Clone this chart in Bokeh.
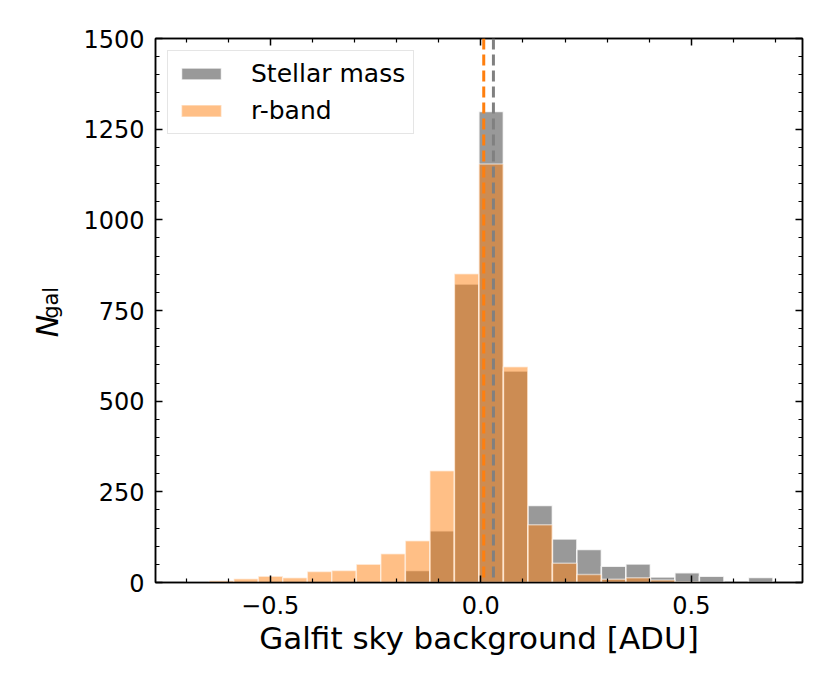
import numpy as np
from bokeh.plotting import figure
from bokeh.layouts import row
from bokeh.models import (Span, LinearAxis, FixedTicker, Range1d,
                          Legend, LegendItem, ColumnDataSource)
from bokeh.core.properties import value
from bokeh.embed import file_html
from bokeh.resources import INLINE

# ---------------- data ----------------
bin_edges = [-0.7030, -0.6448, -0.5866, -0.5284, -0.4702, -0.4120, -0.3538,
             -0.2956, -0.2374, -0.1792, -0.1210, -0.0628, -0.0046, 0.0536,
             0.1118, 0.1700, 0.2282, 0.2864, 0.3446, 0.4028, 0.4610, 0.5192,
             0.5774, 0.6356, 0.6938]
counts_stellar_mass = [0, 0, 0, 0, 0, 0, 0, 0, 4, 33, 143, 823, 1299, 583,
                       212, 120, 91, 45, 51, 15, 27, 17, 0, 14]
counts_rband = [1, 5, 10, 17, 13, 30, 33, 50, 79, 115, 308, 851, 1154, 595,
                159, 53, 22, 9, 13, 7, 2, 0, 0, 0]
median_stellar_mass = 0.030
median_rband = 0.007

x_major_ticks = [-0.5, 0.0, 0.5]
x_tick_labels = ["\u22120.5", "0.0", "0.5"]
x_minor_ticks = [-0.7, -0.6, -0.4, -0.3, -0.2, -0.1, 0.1, 0.2, 0.3, 0.4, 0.6, 0.7]
y_major_ticks = [0, 250, 500, 750, 1000, 1250, 1500]
y_tick_labels = ["0", "250", "500", "750", "1000", "1250", "1500"]
y_minor_ticks = [v for v in range(0, 1501, 50) if v % 250 != 0]

x_label = "Galfit sky background [ADU]"
y_label_main = "N"
y_label_sub = "gal"
legend_labels = ["Stellar mass", "r-band"]

FONT = "DejaVu Sans"
C_GRAY = "#808080"
C_ORANGE = "#ff7f0e"

W, H = 830, 683
LW = 80  # width of the strip that carries the y-axis title

# ---------------- y-axis title strip ----------------
ylab = figure(width=LW, height=H, output_backend="svg", toolbar_location=None,
              x_range=Range1d(0, LW), y_range=Range1d(0, H),
              min_border_left=0, min_border_right=0, min_border_top=0,
              min_border_bottom=0, x_axis_location=None, y_axis_location=None)
ylab.xgrid.visible = False
ylab.ygrid.visible = False
ylab.outline_line_color = None
ylab.background_fill_color = "white"
ylab.border_fill_color = "white"
ylab.text(x=[46.5], y=[308], text=[y_label_main], angle=np.pi / 2,
          text_font=value(FONT), text_font_size="30px",
          text_font_style="italic", text_color="black",
          text_align="left", text_baseline="alphabetic")
ylab.text(x=[50.5], y=[331], text=[y_label_sub], angle=np.pi / 2,
          text_font=value(FONT), text_font_size="21px", text_color="black",
          text_align="left", text_baseline="alphabetic")

# ---------------- main figure ----------------
p = figure(width=W - LW, height=H, output_backend="svg", toolbar_location=None,
           x_range=Range1d(-0.7725, 0.764), y_range=Range1d(0, 1500),
           min_border_left=154 - LW, min_border_right=28, min_border_top=38,
           min_border_bottom=101, x_axis_location=None, y_axis_location=None)
p.xgrid.visible = False
p.ygrid.visible = False
p.outline_line_color = "black"
p.outline_line_width = 1.5
p.background_fill_color = "white"
p.border_fill_color = "white"

src_mass = ColumnDataSource(dict(left=bin_edges[:-1], right=bin_edges[1:],
                                 top=counts_stellar_mass,
                                 bottom=[0] * len(counts_stellar_mass)))
src_r = ColumnDataSource(dict(left=bin_edges[:-1], right=bin_edges[1:],
                              top=counts_rband, bottom=[0] * len(counts_rband)))

r_mass = p.quad(left="left", right="right", top="top", bottom="bottom",
                source=src_mass, fill_color=C_GRAY, fill_alpha=0.8,
                line_color="white", line_alpha=0.8, line_width=1.5)
r_r = p.quad(left="left", right="right", top="top", bottom="bottom",
             source=src_r, fill_color=C_ORANGE, fill_alpha=0.5,
             line_color="white", line_alpha=0.5, line_width=1.5)

p.add_layout(Span(location=median_rband, dimension="height", line_color=C_ORANGE,
                  line_dash="11 5", line_width=3))
p.add_layout(Span(location=median_stellar_mass, dimension="height",
                  line_color=C_GRAY, line_dash="11 5", line_width=3))


def style_axis(ax, ticks, minor, labels):
    ax.ticker = FixedTicker(ticks=ticks, minor_ticks=minor)
    ax.major_tick_in = 7
    ax.major_tick_out = 0
    ax.minor_tick_in = 4
    ax.minor_tick_out = 0
    ax.major_tick_line_width = 1.5
    ax.minor_tick_line_width = 1.2
    ax.major_tick_line_color = "black"
    ax.minor_tick_line_color = "black"
    ax.axis_line_color = "black"
    ax.axis_line_width = 1.5
    ax.major_label_text_font = FONT
    ax.major_label_text_font_size = "24px"
    ax.major_label_text_color = "black"
    ax.major_label_overrides = {t: l for t, l in zip(ticks, labels)}


xb = LinearAxis()
style_axis(xb, x_major_ticks, x_minor_ticks, x_tick_labels)
xb.major_label_standoff = 13
xb.axis_label = x_label
xb.axis_label_text_font = FONT
xb.axis_label_text_font_size = "31px"
xb.axis_label_text_font_style = "normal"
xb.axis_label_text_color = "black"
xb.axis_label_standoff = 3
p.add_layout(xb, "below")

yl = LinearAxis()
style_axis(yl, y_major_ticks, y_minor_ticks, y_tick_labels)
yl.major_label_standoff = 11
p.add_layout(yl, "left")

xt = LinearAxis()
style_axis(xt, x_major_ticks, x_minor_ticks, [""] * len(x_major_ticks))
xt.major_label_standoff = 0
p.add_layout(xt, "above")

yr = LinearAxis()
style_axis(yr, y_major_ticks, y_minor_ticks, [""] * len(y_major_ticks))
yr.major_label_standoff = 0
p.add_layout(yr, "right")

legend = Legend(items=[LegendItem(label=legend_labels[0], renderers=[r_mass]),
                       LegendItem(label=legend_labels[1], renderers=[r_r])],
                location="top_left")
legend.margin = 12
legend.padding = 8
legend.spacing = 8
legend.glyph_width = 50
legend.glyph_height = 15
legend.label_standoff = 25
legend.label_height = 28
legend.label_text_font = FONT
legend.label_text_font_size = "25px"
legend.label_text_color = "black"
legend.border_line_color = "#cccccc"
legend.border_line_width = 1.5
legend.background_fill_color = "white"
legend.background_fill_alpha = 0.8
p.add_layout(legend)

layout = row(ylab, p, spacing=0)
open("out.html", "w").write(file_html(layout, INLINE))
